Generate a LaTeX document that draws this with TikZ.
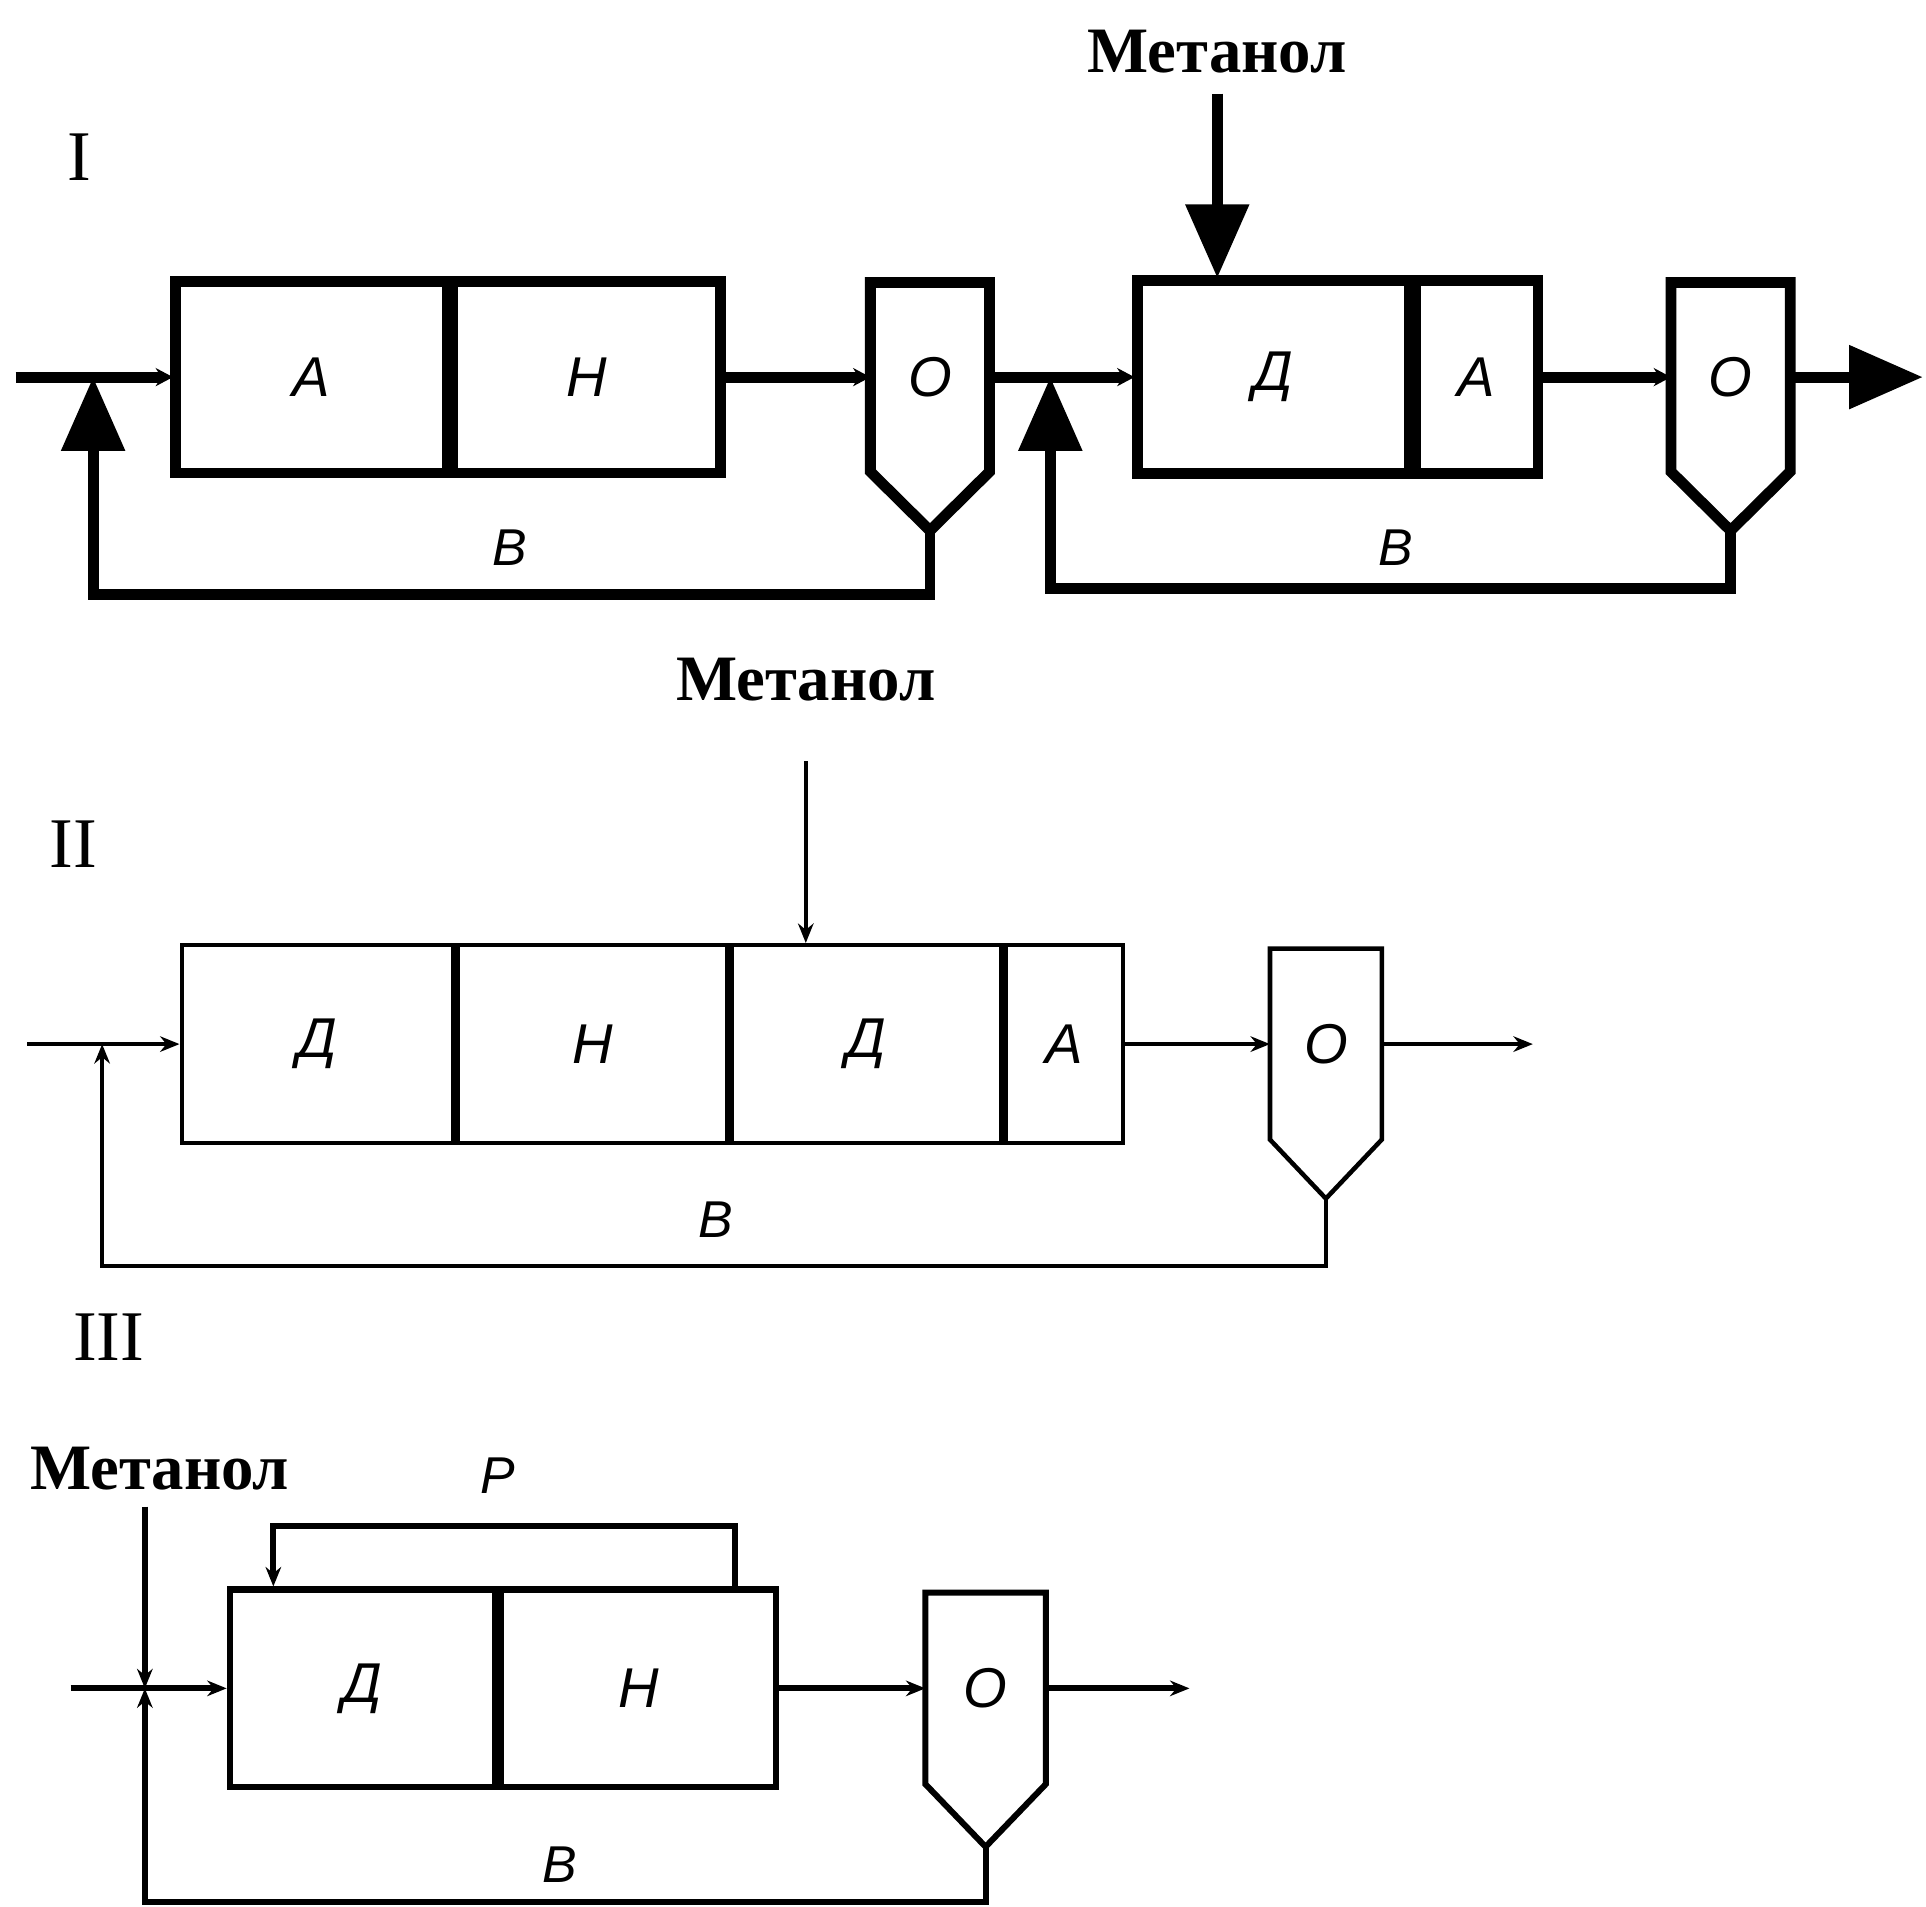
\documentclass[tikz,border=0pt]{standalone}
\usepackage{fontspec}
\setmainfont{Liberation Serif}
\setsansfont{Liberation Sans}
\usetikzlibrary{positioning, arrows.meta, calc}

\begin{document}
\begin{tikzpicture}[
  node distance=1.2cm,
  cell/.style={
    rectangle, draw, outer sep=0.5\pgflinewidth, inner sep=0pt,
    minimum height=1.56cm,
    font=\sffamily\itshape\fontsize{13}{15}\selectfont
  },
  settler/.style={
    rectangle, outer sep=0pt, inner sep=0pt,
    minimum width=0.97cm, minimum height=1.54cm,
    font=\sffamily\itshape\fontsize{13}{15}\selectfont
  },
  flowlbl/.style={font=\sffamily\itshape\fontsize{12}{14}\selectfont},
  feedlbl/.style={inner sep=0pt, font=\bfseries\fontsize{15}{18}\selectfont},
  schemelbl/.style={font=\fontsize{16.5}{19}\selectfont},
  heavy/.style={line width=2.5pt},
  medium/.style={line width=1.4pt},
  light/.style={line width=1.05pt},
  bigarr/.style={-{Triangle[length=0.6cm,width=0.5cm]}},
  smallarr/.style={-{Stealth[length=4.5pt,width=3.6pt]}},
  tinyarr/.style={-{Stealth[length=4pt,width=4.2pt]}},
]
\useasboundingbox (0,0) rectangle (15.68,-15.52);

% Schema I
\node[schemelbl] (s1) at (0.65,-1.28) {I};
\node[feedlbl] (lbl1) at (9.91,-0.42) {Метанол};

\node[cell, heavy, outer sep=0.25\pgflinewidth, minimum width=2.21cm] (a1) at (2.535,-3.07) {А};
\node[cell, heavy, outer sep=0.25\pgflinewidth, minimum width=2.18cm, right=0pt of a1] (n1) {Н};
\node[settler, right=1.2cm of n1] (o1) {О};
\node[cell, heavy, outer sep=0.25\pgflinewidth, minimum width=2.22cm, minimum height=1.57cm, right=1.18cm of o1] (d1) {Д};
\node[cell, heavy, outer sep=0.25\pgflinewidth, minimum width=1.0cm, minimum height=1.57cm, right=0pt of d1] (a2) {А};
\node[settler, right=1.06cm of a2] (o2) {О};

\coordinate (t1) at ($(o1.south)+(0,-0.48)$);
\coordinate (t2) at ($(o2.south)+(0,-0.48)$);
\draw[heavy] (o1.south west) -- (o1.north west) -- (o1.north east) -- (o1.south east) -- (t1) -- cycle;
\draw[heavy] (o2.south west) -- (o2.north west) -- (o2.north east) -- (o2.south east) -- (t2) -- cycle;

\coordinate (in1) at ($(a1.west)+(-1.28,0)$);
\coordinate (j1) at ($(a1.west)+(-0.65,0)$);
\coordinate (j2) at ($(o1.east)+(0.495,0)$);
\coordinate (out1) at ($(o2.east)+(1.08,0)$);

\draw[heavy, tinyarr] (in1) -- (a1.west);
\draw[heavy, tinyarr] (n1) -- (o1);
\draw[heavy, tinyarr] (o1) -- (d1);
\draw[heavy, tinyarr] (a2) -- (o2);
\draw[heavy, bigarr] (o2) -- (out1);
\draw[heavy, bigarr] ([yshift=-0.16cm]lbl1.south) -- (lbl1.south |- d1.north);
\draw[heavy, bigarr] (t1) -- ++(0,-0.52) -| (j1);
\draw[heavy, bigarr] (t2) -- ++(0,-0.47) -| (j2);

\node[flowlbl] (b1) at (4.15,-4.46) {В};
\node[flowlbl] (b2) at (11.36,-4.46) {В};

% Schema II
\node[schemelbl] (s2) at (0.60,-6.87) {II};
\node[feedlbl] (lbl2) at (6.56,-5.53) {Метанол};

\node[cell, light, minimum width=2.21cm, minimum height=1.61cm] (d2) at (2.585,-8.50) {Д};
\node[cell, light, minimum width=2.19cm, minimum height=1.61cm, right=0pt of d2] (n2) {Н};
\node[cell, light, minimum width=2.20cm, minimum height=1.61cm, right=0pt of n2] (d3) {Д};
\node[cell, light, minimum width=0.95cm, minimum height=1.61cm, right=0pt of d3] (a3) {А};
\node[settler, minimum width=0.91cm, minimum height=1.555cm, right=1.18cm of a3] (o3) {О};

\coordinate (t3) at ($(o3.south)+(0,-0.48)$);
\draw[light] (o3.south west) -- (o3.north west) -- (o3.north east) -- (o3.south east) -- (t3) -- cycle;

\coordinate (in2) at ($(d2.west)+(-1.24,0)$);
\coordinate (j3) at ($(d2.west)+(-0.63,0)$);
\coordinate (out2) at ($(o3.east)+(1.23,0)$);

\draw[light, smallarr] (in2) -- (d2.west);
\draw[light, smallarr] (a3) -- (o3);
\draw[light, smallarr] (o3) -- (out2);
\draw[light, smallarr] ([yshift=-0.485cm]lbl2.south) -- (lbl2.south |- d3.north);
\draw[light, smallarr] (t3) -- ++(0,-0.55) -| (j3);

\node[flowlbl] (b3) at (5.83,-9.93) {В};

% Schema III
\node[schemelbl] (s3) at (0.885,-10.89) {III};
\node[feedlbl] (lbl3) at (1.30,-11.96) {Метанол};
\node[flowlbl] (plbl) at (4.055,-12.01) {Р};

\node[cell, medium, minimum width=2.16cm, minimum height=1.61cm] (d4) at (2.95,-13.745) {Д};
\node[cell, medium, minimum width=2.24cm, minimum height=1.61cm, right=0pt of d4] (n3) {Н};
\node[settler, minimum width=0.98cm, minimum height=1.56cm, right=1.19cm of n3] (o4) {О};

\coordinate (t4) at ($(o4.south)+(0,-0.51)$);
\draw[medium] (o4.south west) -- (o4.north west) -- (o4.north east) -- (o4.south east) -- (t4) -- cycle;

\coordinate (in3) at ($(d4.west)+(-1.27,0)$);
\coordinate (j4) at ($(d4.west)+(-0.666,0)$);
\coordinate (m3) at ($(j4)+(0,1.48)$);
\coordinate (out3) at ($(o4.east)+(1.17,0)$);

\draw[medium, smallarr] (in3) -- (d4.west);
\draw[medium, smallarr] (m3) -- (j4);
\draw[medium, smallarr] (t4) -- ++(0,-0.45) -| (j4);
\draw[medium, smallarr] ($(n3.north east)+(-0.36,0)$) -- ++(0,0.49) -| ($(d4.north west)+(0.38,0)$);
\draw[medium, smallarr] (n3) -- (o4);
\draw[medium, smallarr] (o4) -- (out3);

\node[flowlbl] (b4) at (4.56,-15.18) {В};

\end{tikzpicture}
\end{document}
